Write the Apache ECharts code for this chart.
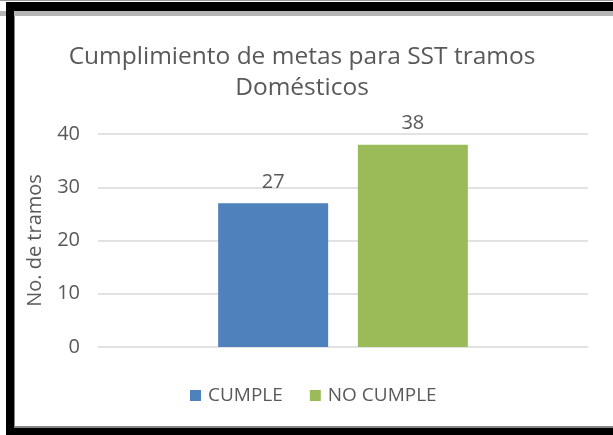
<!DOCTYPE html>
<html>
<head>
<meta charset="utf-8">
<script src="https://cdn.jsdelivr.net/npm/echarts@6/dist/echarts.min.js"></script>
<style>
html,body{margin:0;padding:0;background:#fff;}
#c{width:613px;height:435px;}
</style>
</head>
<body>
<div id="c"></div>
<script>
var categories = [''];
var seriesNames = ['CUMPLE', 'NO CUMPLE'];
var cumpleValues = [27];
var noCumpleValues = [38];
var yTicks = { min: 0, max: 40, interval: 10 };

var FONT = '"Open Sans", sans-serif';
var TXT = '#595959';
var chart = echarts.init(document.getElementById('c'), null, { renderer: 'canvas' });
chart.setOption({
  backgroundColor: '#ffffff',
  animation: false,
  title: {
    text: 'Cumplimiento de metas para SST tramos\nDomésticos',
    left: 297,
    top: 37,
    textAlign: 'center',
    textStyle: { fontFamily: FONT, fontSize: 24.5, fontWeight: 'normal', color: TXT, lineHeight: 31 }
  },
  legend: {
    data: seriesNames,
    left: 190,
    top: 386,
    padding: 0,
    icon: 'rect',
    itemWidth: 11,
    itemHeight: 11,
    itemGap: 27,
    textStyle: { fontFamily: FONT, fontSize: 19, color: TXT, padding: [0, 0, 0, 2] }
  },
  grid: { left: 98, right: 25, top: 134, bottom: 88, containLabel: false },
  xAxis: {
    type: 'category',
    data: categories,
    axisLine: { show: false },
    axisTick: { show: false },
    axisLabel: { show: false }
  },
  yAxis: {
    type: 'value',
    min: yTicks.min,
    max: yTicks.max,
    interval: yTicks.interval,
    name: 'No. de tramos',
    nameLocation: 'middle',
    nameGap: 53,
    nameTextStyle: { fontFamily: FONT, fontSize: 20, color: TXT },
    axisLine: { show: false },
    axisTick: { show: false },
    axisLabel: { fontFamily: FONT, fontSize: 20, color: TXT, margin: 18 },
    splitLine: { lineStyle: { color: '#d9d9d9', width: 1.5 } }
  },
  series: [
    {
      name: seriesNames[0],
      type: 'bar',
      data: cumpleValues,
      barWidth: 110,
      barGap: '27%',
      itemStyle: { color: '#4f81bd' },
      label: { show: true, position: 'top', distance: 11, fontFamily: FONT, fontSize: 20, color: TXT }
    },
    {
      name: seriesNames[1],
      type: 'bar',
      data: noCumpleValues,
      barWidth: 110,
      barGap: '27%',
      itemStyle: { color: '#9bbb59' },
      label: { show: true, position: 'top', distance: 11, fontFamily: FONT, fontSize: 20, color: TXT }
    }
  ],
  graphic: [
    { type: 'rect', shape: { x: 0, y: 11, width: 613, height: 5 }, style: { fill: '#b5b5b5' }, silent: true },
    { type: 'rect', shape: { x: 0, y: 0, width: 613, height: 1 }, style: { fill: '#999999' }, silent: true },
    { type: 'rect', shape: { x: 6, y: 2, width: 607, height: 9 }, style: { fill: '#000000' }, silent: true },
    { type: 'rect', shape: { x: 14, y: 16, width: 1, height: 411 }, style: { fill: '#888888' }, silent: true },
    { type: 'rect', shape: { x: 6, y: 2, width: 8, height: 433 }, style: { fill: '#000000' }, silent: true },
    { type: 'rect', shape: { x: 14, y: 426, width: 599, height: 2 }, style: { fill: '#888888' }, silent: true },
    { type: 'rect', shape: { x: 6, y: 428, width: 607, height: 7 }, style: { fill: '#000000' }, silent: true }
  ]
});
</script>
</body>
</html>
